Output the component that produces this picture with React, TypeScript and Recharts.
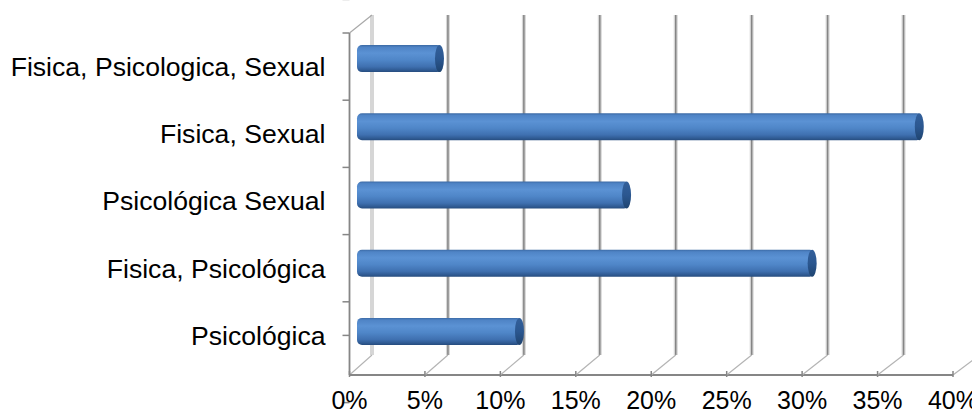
import React from 'react';
import { BarChart, Bar, XAxis, YAxis, CartesianGrid } from 'recharts';

const CATEGORIES = [
  'Fisica, Psicologica, Sexual',
  'Fisica, Sexual',
  'Psicológica Sexual',
  'Fisica, Psicológica',
  'Psicológica',
];
const VALUES = [0.056, 0.374, 0.18, 0.303, 0.109];
const X_TICKS = [0, 0.05, 0.1, 0.15, 0.2, 0.25, 0.3, 0.35, 0.4];

const data = CATEGORIES.map((name, i) => ({ name, value: VALUES[i] }));

const FONT = '"Liberation Sans", Arial, sans-serif';
const TOP = 33;
const DEPTH_X = 22.5; // 3d depth of the back wall
const DEPTH_Y = 18;
const FLOOR_DROP = 6; // front floor edge sits a bit under the last category tick
const AXIS = '#868686';

const pct = (v: number) => `${Math.round(v * 100)}%`;

// back wall grid, floor diagonals and the front axis frame
const renderVertical = (p: any) => {
  const { x1, y1, y2, index } = p;
  const left = p.x ?? x1;
  const right = left + (p.width ?? 0);
  const bx = x1 + DEPTH_X + (x1 - left) * 0.0066;
  const floorY = y2 + FLOOR_DROP;
  const backTop = y1 - DEPTH_Y;
  const backBot = y2 - 14;
  const first = index === 0;
  return (
    <g key={`v-${index}`}>
      <line x1={bx} y1={backTop} x2={bx} y2={backBot} stroke="#d6d6d6" strokeWidth={4} />
      {!first && <line x1={bx} y1={backTop} x2={bx} y2={backBot} stroke="#858585" strokeWidth={1.5} />}
      <line x1={x1} y1={floorY} x2={bx} y2={backBot} stroke="#b4b4b4" strokeWidth={1.2} />
      <line x1={x1} y1={y2 + 2} x2={x1} y2={y2 + 8} stroke={AXIS} strokeWidth={1.5} />
      {first && (
        <>
          <line x1={x1} y1={y1} x2={bx} y2={backTop} stroke="#a8a8a8" strokeWidth={1.2} />
          <line x1={x1} y1={y1} x2={x1} y2={floorY} stroke={AXIS} strokeWidth={1.8} />
          <line x1={x1} y1={floorY} x2={right} y2={floorY} stroke={AXIS} strokeWidth={1.8} />
        </>
      )}
    </g>
  );
};

// category ticks sit on band edges, not band centres
const renderHorizontal = (p: any) => {
  const { x1, y1, index } = p;
  const pts: number[] = p.horizontalPoints || [];
  const step = pts.length > 1 ? Math.abs(pts[1] - pts[0]) : 0;
  const last = index === pts.length - 1;
  return (
    <g key={`h-${index}`}>
      <line x1={x1 - 7} y1={y1 - step / 2} x2={x1} y2={y1 - step / 2} stroke={AXIS} strokeWidth={1.5} />
      {last && <line x1={x1 - 7} y1={y1 + step / 2} x2={x1} y2={y1 + step / 2} stroke={AXIS} strokeWidth={1.5} />}
    </g>
  );
};

const Cylinder = (props: any) => {
  const { x, y, width, height } = props;
  const h = 27;
  const c0 = y + height / 2;
  const cy = c0 - 7.9 + (c0 - TOP - 33.6) * 0.0149;
  const top = cy - h / 2;
  const left = x + 7.5;
  const right = x + width + 10;
  return (
    <g>
      <rect x={left} y={top} width={right - left - 2} height={h} rx={5} ry={5} fill="url(#cylBody)" />
      <ellipse cx={right - 4.5} cy={cy} rx={4.5} ry={h / 2} fill="url(#cylCap)" />
    </g>
  );
};

export default function App() {
  return (
    <div style={{ width: 972, height: 409, position: 'relative', background: '#fff' }}>
      <style>{'body{margin:0;}'}</style>
      <svg width={0} height={0} style={{ position: 'absolute' }}>
        <defs>
          <linearGradient id="cylBody" x1="0" y1="0" x2="0" y2="1">
            <stop offset="0" stopColor="#3b6aa5" />
            <stop offset="0.08" stopColor="#4f84c6" />
            <stop offset="0.3" stopColor="#5b92d4" />
            <stop offset="0.55" stopColor="#4f86c8" />
            <stop offset="0.8" stopColor="#3f70b0" />
            <stop offset="0.93" stopColor="#2f5a92" />
            <stop offset="1" stopColor="#264c7e" />
          </linearGradient>
          <linearGradient id="cylCap" x1="0" y1="0" x2="0" y2="1">
            <stop offset="0" stopColor="#33609b" />
            <stop offset="0.5" stopColor="#2b5790" />
            <stop offset="1" stopColor="#1f4470" />
          </linearGradient>
        </defs>
      </svg>
      <BarChart
        width={972}
        height={409}
        layout="vertical"
        data={data}
        margin={{ top: TOP, right: 19, bottom: 0, left: 0 }}
      >
        <CartesianGrid vertical={renderVertical} horizontal={renderHorizontal} fill="none" />
        <XAxis
          type="number"
          domain={[0, 0.4]}
          ticks={X_TICKS}
          interval={0}
          tickFormatter={pct}
          axisLine={false}
          tickLine={false}
          tickSize={0}
          tickMargin={22}
          height={40}
          tick={{ fill: '#000', fontSize: 25, fontFamily: FONT }}
        />
        <YAxis
          type="category"
          dataKey="name"
          width={349.5}
          interval={0}
          axisLine={false}
          tickLine={false}
          tickSize={0}
          tickMargin={24}
          tick={{ fill: '#000', fontSize: 26.6, fontFamily: FONT }}
        />
        <Bar dataKey="value" barSize={27} shape={<Cylinder />} isAnimationActive={false} />
      </BarChart>
    </div>
  );
}
